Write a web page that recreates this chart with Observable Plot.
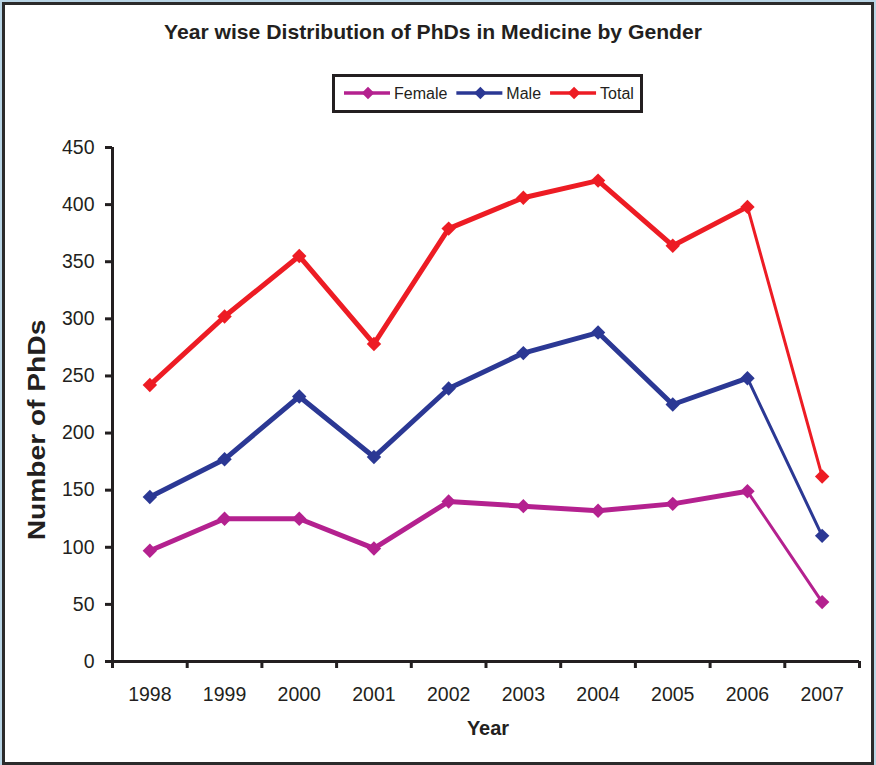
<!DOCTYPE html>
<html><head><meta charset="utf-8">
<script src="https://cdn.jsdelivr.net/npm/d3@7"></script>
<script src="https://cdn.jsdelivr.net/npm/@observablehq/plot@0.6"></script>
<style>
html,body{margin:0;padding:0;}
body{width:876px;height:765px;overflow:hidden;background:#b9d5e5;}
#page{position:relative;width:876px;height:765px;}
#frame{position:absolute;left:2px;top:2px;width:872px;height:763px;box-sizing:border-box;border:3px solid #2b2b2b;background:#fff;}
#chart{position:absolute;left:0;top:0;}
</style></head><body><div id="page"><div id="frame"></div><div id="chart"></div></div>
<script>
const years = [1998, 1999, 2000, 2001, 2002, 2003, 2004, 2005, 2006, 2007];
const female = [97, 125, 125, 99, 140, 136, 132, 138, 149, 52];
const male = [144, 177, 232, 179, 239, 270, 288, 225, 248, 110];
const total = [242, 302, 355, 278, 379, 406, 421, 364, 398, 162];
const seriesNames = ["Female", "Male", "Total"];
const seriesColors = ["#b4218f", "#2b3894", "#ed1c24"];
const yTicks = [0, 50, 100, 150, 200, 250, 300, 350, 400, 450];
const titleText = "Year wise Distribution of PhDs in Medicine by Gender";
const xTitle = "Year";
const yTitle = "Number of PhDs";

const xBounds = [...years.map(y => y - 0.5), years[years.length - 1] + 0.5];
const seriesValues = [female, male, total];
const rows = seriesNames.flatMap((s, i) => seriesValues[i].map((v, j) => ({series: s, year: years[j], value: v})));
const prevYear = years[years.length - 2];
const ink = "#231f20";
const font = "'Liberation Sans', Arial, Helvetica, sans-serif";

const plot = Plot.plot({
  width: 876, height: 765,
  marginLeft: 112, marginRight: 17, marginTop: 147, marginBottom: 104,
  style: {background: "transparent", fontFamily: font, color: ink, overflow: "visible"},
  x: {type: "linear", domain: [xBounds[0], xBounds[xBounds.length - 1]]},
  y: {domain: [0, 450]},
  color: {domain: seriesNames, range: seriesColors},
  marks: [
    Plot.axisY(yTicks, {tickSize: 7, tickPadding: 11, fontSize: 19.5, strokeWidth: 3, color: ink, label: null}),
    Plot.axisX(xBounds, {tickSize: 7, tickFormat: () => "", strokeWidth: 3, color: ink, label: null}),
    Plot.axisX(years, {tickSize: 0, tickPadding: 26, fontSize: 19.5, tickFormat: d => String(d), color: ink, label: null}),
    Plot.ruleY([0], {stroke: ink, strokeWidth: 3}),
    Plot.ruleX([xBounds[0]], {stroke: ink, strokeWidth: 3}),
    Plot.line(rows.filter(d => d.year <= prevYear), {x: "year", y: "value", z: "series", stroke: "series", strokeWidth: 5, strokeLinejoin: "round"}),
    Plot.line(rows.filter(d => d.year >= prevYear), {x: "year", y: "value", z: "series", stroke: "series", strokeWidth: 3}),
    Plot.dot(rows, {x: "year", y: "value", fill: "series", symbol: "diamond2", r: 6.5})
  ]
});
document.getElementById("chart").appendChild(plot);

const svg = d3.select(plot);
svg.append("text")
  .attr("transform", "translate(433,39) scale(1.085,1)")
  .attr("text-anchor", "middle").attr("font-weight", "bold").attr("font-size", 19.5)
  .attr("fill", ink).attr("font-family", font).text(titleText);
svg.append("text")
  .attr("transform", "translate(45,430) rotate(-90) scale(1.15,1)")
  .attr("text-anchor", "middle").attr("font-weight", "bold").attr("font-size", 24.5)
  .attr("fill", ink).attr("font-family", font).text(yTitle);
svg.append("text")
  .attr("transform", "translate(488,735)")
  .attr("text-anchor", "middle").attr("font-weight", "bold").attr("font-size", 20)
  .attr("fill", ink).attr("font-family", font).text(xTitle);

// legend
const lg = svg.append("g");
lg.append("rect").attr("x", 333.5).attr("y", 75.5).attr("width", 308).attr("height", 36)
  .attr("fill", "#fff").attr("stroke", ink).attr("stroke-width", 3);
let lx = 344;
seriesNames.forEach((s, i) => {
  const c = seriesColors[i];
  lg.append("line").attr("x1", lx).attr("x2", lx + 46).attr("y1", 93).attr("y2", 93)
    .attr("stroke", c).attr("stroke-width", 3.5);
  lg.append("path").attr("d", d3.symbol(d3.symbolDiamond2, 100)())
    .attr("transform", `translate(${lx + 24},93)`).attr("fill", c);
  const t = lg.append("text").attr("x", lx + 50).attr("y", 98.5).attr("font-size", 16)
    .attr("text-anchor", "start")
    .attr("fill", ink).attr("font-family", font).text(s);
  lx = lx + 50 + t.node().getComputedTextLength() + 9;
});
</script>
</body></html>
